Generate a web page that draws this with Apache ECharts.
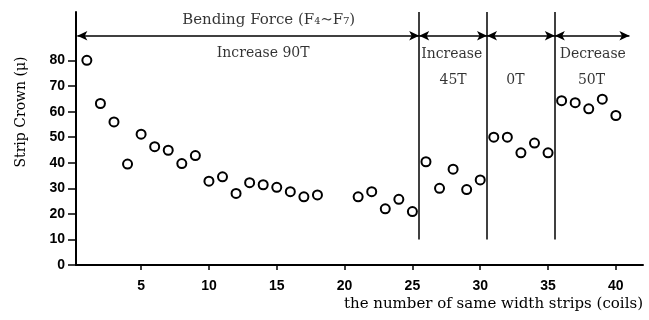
<!DOCTYPE html>
<html>
<head>
<meta charset="utf-8">
<script src="https://cdn.jsdelivr.net/npm/echarts@6/dist/echarts.min.js"></script>
<style>
  html, body { margin: 0; padding: 0; background: #fff; }
  #chart { width: 649px; height: 320px; }
</style>
</head>
<body>
<div id="chart"></div>
<script>
// coil number along the run, and the measured strip crown (micron)
const coils = [1, 2, 3, 4, 5, 6, 7, 8, 9, 10, 11, 12, 13, 14, 15, 16, 17, 18,
  21, 22, 23, 24, 25, 26, 27, 28, 29, 30, 31, 32, 33, 34, 35, 36, 37, 38, 39, 40];
const crown = [80.1, 63.2, 56.0, 39.5, 51.2, 46.3, 44.9, 39.7, 42.8, 32.8, 34.5, 28.0,
  32.2, 31.4, 30.4, 28.7, 26.7, 27.4,
  26.7, 28.7, 22.0, 25.7, 20.9, 40.4, 30.0, 37.5, 29.5, 33.3, 50.0, 50.0,
  43.9, 47.7, 43.9, 64.3, 63.5, 61.1, 64.9, 58.5];

const xTicks = [5, 10, 15, 20, 25, 30, 35, 40];
const yTicks = [0, 10, 20, 30, 40, 50, 60, 70, 80];

// bending force change boundaries and arrow segment ends
const dividers = [25.5, 30.5, 35.5];
const segmentEnds = [0.3, 25.5, 30.5, 35.5, 41];
const arrowLevel = 89.7;

// annotation texts (x, y in data units)
const noteText = ['Bending Force (F\u2084\u223CF\u2087)', 'Increase 90T', 'Increase', '45T', '0T', 'Decrease', '50T'];
const noteX = [14.4, 14.0, 27.9, 28.0, 32.6, 38.3, 38.2];
const noteY = [95.7, 83.0, 82.6, 72.2, 72.4, 82.6, 72.4];
const noteSize = [15, 14, 14, 14, 14, 14, 14];

const chart = echarts.init(document.getElementById('chart'));

const arrowSegments = [];
for (let i = 0; i < segmentEnds.length - 1; i++) {
  arrowSegments.push([{ coord: [segmentEnds[i], arrowLevel] }, { coord: [segmentEnds[i + 1], arrowLevel] }]);
}
const dividerLines = dividers.map(d => [
  { coord: [d, 10], symbol: 'none' },
  { coord: [d, 99], symbol: 'none' }
]);

const notes = noteText.map((t, i) => ({
  value: [noteX[i], noteY[i], t],
  label: { fontSize: noteSize[i] }
}));

const option = {
  animation: false,
  grid: { left: 76, right: 6, top: 12, bottom: 55 },
  xAxis: {
    type: 'value',
    min: 0.2,
    max: 42,
    splitLine: { show: false },
    axisLine: { lineStyle: { color: '#000', width: 2 } },
    axisTick: { show: true, customValues: xTicks, length: 5, lineStyle: { color: '#000', width: 1.5 } },
    axisLabel: {
      customValues: xTicks, margin: 14, color: '#000',
      fontFamily: 'Liberation Sans', fontWeight: 'bold', fontSize: 14
    }
  },
  yAxis: {
    type: 'value',
    min: 0,
    max: 99,
    splitLine: { show: false },
    axisLine: { show: true, lineStyle: { color: '#000', width: 2 } },
    axisTick: { show: true, customValues: yTicks, length: 8, lineStyle: { color: '#000', width: 1.5 } },
    axisLabel: {
      customValues: yTicks, margin: 11, color: '#000',
      fontFamily: 'Liberation Sans', fontWeight: 'bold', fontSize: 14
    }
  },
  graphic: [
    {
      type: 'text', x: 21, y: 112, rotation: Math.PI / 2,
      style: {
        text: 'Strip Crown (\u03BC)', font: '14px "DejaVu Serif"', fill: '#000',
        textAlign: 'center', textVerticalAlign: 'middle'
      }
    },
    {
      type: 'text', right: 6, top: 297,
      style: {
        text: 'the number of same width strips (coils)', font: '15px "DejaVu Serif"', fill: '#000'
      }
    }
  ],
  series: [
    {
      type: 'scatter',
      data: coils.map((c, i) => [c, crown[i]]),
      symbol: 'circle',
      symbolSize: 9,
      itemStyle: { color: '#fff', borderColor: '#000', borderWidth: 2, opacity: 1 },
      markLine: {
        silent: true,
        animation: false,
        label: { show: false },
        data: [...dividerLines, ...arrowSegments],
        symbol: ['arrow', 'arrow'],
        symbolSize: [7, 10],
        lineStyle: { color: '#000', width: 1.5, type: 'solid' }
      }
    },
    {
      // text-only series for the bending force notes
      type: 'scatter',
      silent: true,
      symbolSize: 0,
      data: notes,
      label: {
        show: true,
        position: 'inside',
        formatter: p => p.value[2],
        color: '#000',
        fontFamily: 'DejaVu Serif'
      }
    }
  ]
};

chart.setOption(option);
</script>
</body>
</html>
